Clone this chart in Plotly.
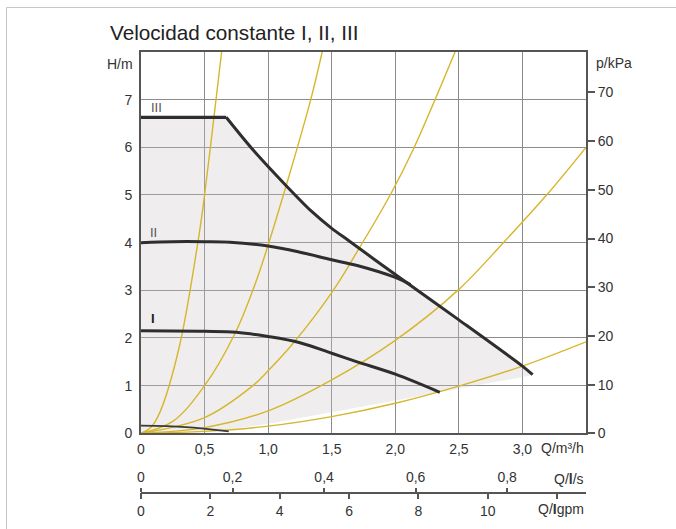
import plotly.graph_objects as go

# ---------------- data (Q in m³/h, H in m) ----------------
q_III = [0, 0.67, 0.87, 1.14, 1.34, 1.5, 1.64, 2.0, 2.5, 3.0, 3.08]
h_III = [6.63, 6.63, 5.98, 5.2, 4.66, 4.3, 4.03, 3.33, 2.38, 1.41, 1.23]

q_II = [0, 0.25, 0.5, 0.7, 1.0, 1.25, 1.5, 1.7, 2.0, 2.12]
h_II = [4.0, 4.02, 4.02, 4.01, 3.93, 3.8, 3.64, 3.52, 3.27, 3.12]

q_I = [0, 0.5, 0.75, 1.0, 1.25, 1.5, 1.7, 2.0, 2.35]
h_I = [2.15, 2.14, 2.12, 2.03, 1.9, 1.68, 1.5, 1.24, 0.86]

q_min = [0, 0.35, 0.69]
h_min = [0.16, 0.13, 0.04]

fill_low_q = [0, 0.7, 1.0, 1.7, 3.04]
fill_low_h = [0, 0.08, 0.2, 0.54, 1.2]

# system (pipe) curves
sysA_q = [0, 0.08, 0.15, 0.3, 0.45, 0.5, 0.59, 0.634]
sysA_h = [0, 0.13, 0.45, 1.8, 4.05, 5.0, 7.0, 8.0]
sysB_q = [0, 0.25, 0.5, 0.74, 0.9, 1.0, 1.12, 1.23, 1.335, 1.425]
sysB_h = [0, 0.25, 1.0, 2.1, 3.15, 3.95, 5.0, 6.0, 7.0, 8.0]
sysC_q = [0, 0.5, 0.88, 1.0, 1.21, 1.5, 1.72, 1.96, 2.14, 2.47]
sysC_h = [0, 0.33, 1.0, 1.31, 1.93, 2.95, 3.9, 5.0, 5.95, 8.0]
sysD_q = [0, 0.5, 1.0, 1.5, 2.0, 2.5, 2.85, 3.19, 3.5]
sysD_h = [0, 0.12, 0.47, 1.12, 1.95, 3.02, 4.0, 5.0, 6.0]
sysE_q = [0, 0.5, 1.0, 1.5, 2.0, 2.5, 3.0, 3.5]
sysE_h = [0, 0.04, 0.15, 0.35, 0.63, 0.99, 1.41, 1.92]

# tick labels
q_ticks = [0, 0.5, 1.0, 1.5, 2.0, 2.5, 3.0]
q_labels = ["0", "0,5", "1,0", "1,5", "2,0", "2,5", "3,0"]
h_ticks = [0, 1, 2, 3, 4, 5, 6, 7]
h_labels = ["0", "1", "2", "3", "4", "5", "6", "7"]
p_ticks = [0, 10, 20, 30, 40, 50, 60, 70]
ls_ticks = [0, 0.2, 0.4, 0.6, 0.8]
ls_labels = ["0", "0,2", "0,4", "0,6", "0,8"]
gpm_ticks = [0, 2, 4, 6, 8, 10, 12]
gpm_labels = ["0", "2", "4", "6", "8", "10", ""]

curve_names = ["III", "II", "I"]

# ---------------- styling ----------------
FONT = "Liberation Sans, Arial, sans-serif"
YELLOW = "#d6b62a"
DARK = "#2e2e2e"
GRID = "#8c8c8c"
SPINE = "#555555"

Q_MAX = 3.5
H_MAX = 8.0
P_MAX = 78.3
M3H_PER_LS = 3.6
M3H_PER_IGPM = 0.272765

KNEE = 1  # index of the knee of curve III (end of the flat part)

fig = go.Figure()

# operating area fill
fig.add_trace(go.Scatter(
    x=q_III + fill_low_q[::-1],
    y=h_III + fill_low_h[::-1],
    mode="lines", fill="toself",
    fillcolor="rgba(202,195,198,0.30)",
    line=dict(width=0), hoverinfo="skip", showlegend=False))

for sq, sh in [(sysA_q, sysA_h), (sysB_q, sysB_h), (sysC_q, sysC_h),
               (sysD_q, sysD_h), (sysE_q, sysE_h)]:
    fig.add_trace(go.Scatter(x=sq, y=sh, mode="lines",
                             line=dict(color=YELLOW, width=1.4, shape="spline"),
                             hoverinfo="skip", showlegend=False))

fig.add_trace(go.Scatter(x=q_min, y=h_min, mode="lines",
                         line=dict(color="#3a3a3a", width=1.6, shape="spline"),
                         showlegend=False))
fig.add_trace(go.Scatter(x=q_I, y=h_I, mode="lines",
                         line=dict(color=DARK, width=3, shape="spline"), showlegend=False))
fig.add_trace(go.Scatter(x=q_II, y=h_II, mode="lines",
                         line=dict(color=DARK, width=3, shape="spline"), showlegend=False))
# curve III: flat part + smooth descending part
fig.add_trace(go.Scatter(x=q_III[:KNEE + 1], y=h_III[:KNEE + 1], mode="lines",
                         line=dict(color=DARK, width=3.2), showlegend=False))
fig.add_trace(go.Scatter(x=q_III[KNEE:], y=h_III[KNEE:], mode="lines",
                         line=dict(color=DARK, width=3, shape="spline", smoothing=0.8),
                         showlegend=False))

# helper traces to activate secondary axes
fig.add_trace(go.Scatter(x=[0], y=[None], yaxis="y2", mode="lines", showlegend=False, hoverinfo="skip"))
fig.add_trace(go.Scatter(x=[0], y=[None], xaxis="x2", mode="lines", showlegend=False, hoverinfo="skip"))
fig.add_trace(go.Scatter(x=[0], y=[None], xaxis="x3", mode="lines", showlegend=False, hoverinfo="skip"))

W, H = 676, 529
ML, MR, MT, MB = 141, 90, 52, 0
# effective paper area as rendered (bottom edge lands at y=521)
PAPER_BOTTOM = 521.0
H_PX = PAPER_BOTTOM - MT
W_PX = float(W - ML - MR)

def py2paper(py):
    return (PAPER_BOTTOM - py) / H_PX

def px2paper(px):
    return (px - ML) / W_PX

dom_bottom = py2paper(433.3)
free_pos = py2paper(492.7)

tickfont = dict(family=FONT, size=14, color="#333333")

fig.update_layout(
    width=W, height=H, autosize=False,
    margin=dict(l=ML, r=MR, t=MT, b=MB, pad=0),
    paper_bgcolor="white", plot_bgcolor="white",
    font=dict(family=FONT, size=14, color="#333333"),
    showlegend=False,
    xaxis=dict(range=[0, Q_MAX], domain=[0, 1], anchor="y",
               tickvals=q_ticks, ticktext=q_labels, tickfont=tickfont,
               ticks="outside", ticklen=2, tickcolor="rgba(0,0,0,0)",
               showgrid=True, gridcolor=GRID, gridwidth=1.4,
               showline=True, linecolor=SPINE, linewidth=2, mirror=True,
               zeroline=False, fixedrange=True),
    yaxis=dict(range=[0, H_MAX], domain=[dom_bottom, 1], anchor="x",
               tickvals=h_ticks, ticktext=h_labels, tickfont=tickfont,
               ticks="outside", ticklen=4, tickcolor="rgba(0,0,0,0)",
               showgrid=True, gridcolor=GRID, gridwidth=1.4,
               showline=True, linecolor=SPINE, linewidth=2,
               zeroline=False, fixedrange=True),
    yaxis2=dict(range=[0, P_MAX], domain=[dom_bottom, 1], overlaying="y",
                side="right", anchor="x",
                tickvals=p_ticks, tickfont=tickfont,
                ticks="outside", ticklen=7, tickwidth=1.5, tickcolor=SPINE,
                showgrid=False, showline=True, linecolor=SPINE, linewidth=2,
                zeroline=False, fixedrange=True),
    xaxis2=dict(range=[0, Q_MAX / M3H_PER_LS], overlaying="x", anchor="free",
                position=free_pos, side="top",
                tickvals=ls_ticks, ticktext=ls_labels, tickfont=tickfont,
                ticks="outside", ticklen=4, tickwidth=1.5, tickcolor=SPINE,
                showgrid=False, showline=True, linecolor=SPINE, linewidth=1.5,
                zeroline=False, fixedrange=True),
    xaxis3=dict(range=[0, Q_MAX / M3H_PER_IGPM], overlaying="x", anchor="free",
                position=free_pos, side="bottom",
                tickvals=gpm_ticks, ticktext=gpm_labels, tickfont=tickfont,
                ticks="outside", ticklen=6, tickwidth=1.5, tickcolor=SPINE,
                showgrid=False, showline=True, linecolor=SPINE, linewidth=1.5,
                zeroline=False, fixedrange=True),
)

anns = [
    dict(text="Velocidad constante I, II, III", x=px2paper(108), y=py2paper(33),
         xanchor="left", yanchor="middle", font=dict(size=20.7, color="#222222")),
    dict(text="H/m", x=px2paper(135), y=py2paper(64), xanchor="right", yanchor="middle"),
    dict(text="p/kPa", x=px2paper(594), y=py2paper(63), xanchor="left", yanchor="middle"),
    dict(text="Q/m³/h", x=1.0, y=py2paper(447.5), xanchor="right", yanchor="middle"),
    dict(text="Q/<b>l</b>/s", x=1.0, y=py2paper(478.5), xanchor="right", yanchor="middle"),
    dict(text="Q/<b>I</b>gpm", x=1.0, y=py2paper(509), xanchor="right", yanchor="middle"),
]
for a in anns:
    a.update(xref="paper", yref="paper", showarrow=False)
    a.setdefault("font", dict(size=14, color="#333333"))
    fig.add_annotation(**a)

# curve labels (data coordinates)
label_pos = [(0.118, 6.84, "#555555", False), (0.10, 4.22, "#555555", False), (0.095, 2.40, "#222222", True)]
for name, (lx, ly, col, bold) in zip(curve_names, label_pos):
    fig.add_annotation(x=lx, y=ly, xref="x", yref="y", showarrow=False,
                       text=("<b>%s</b>" % name) if bold else name,
                       font=dict(size=13, color=col), xanchor="center", yanchor="middle")

# outer light frame
fig.add_shape(type="line", xref="paper", yref="paper",
              x0=px2paper(6.5), x1=px2paper(690), y0=py2paper(7.5), y1=py2paper(7.5),
              line=dict(color="#c6c6c6", width=1))
fig.add_shape(type="line", xref="paper", yref="paper",
              x0=px2paper(6.5), x1=px2paper(6.5), y0=py2paper(540), y1=py2paper(7.5),
              line=dict(color="#c6c6c6", width=1))

fig.write_html("out.html",
               config={"responsive": False, "displayModeBar": False},
               post_script="document.body.style.margin='0px';document.body.style.overflow='hidden';")
